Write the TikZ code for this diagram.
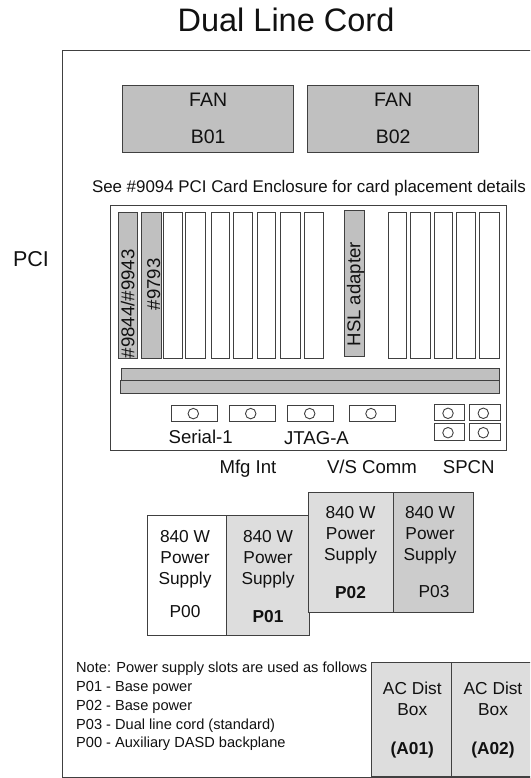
\documentclass[tikz,border=0pt]{standalone}
\usepackage{fontspec}
\setmainfont{Liberation Sans}
\usetikzlibrary{positioning}
\definecolor{cInk}{HTML}{111111}
\definecolor{cLine}{HTML}{404040}
\definecolor{cBar}{HTML}{C0C0C0}
\definecolor{cPale}{HTML}{DDDDDD}
\definecolor{cMid}{HTML}{CCCCCC}
\newcommand{\fsTitle}{\fontsize{32.5}{38}\selectfont}
\newcommand{\fsBig}{\fontsize{18.6}{22}\selectfont}
\newcommand{\fsPci}{\fontsize{21.5}{24}\selectfont}
\newcommand{\fsFan}{\fontsize{19.5}{22}\selectfont}
\newcommand{\fsSee}{\fontsize{16.9}{20}\selectfont}
\newcommand{\fsPower}{\fontsize{17.3}{21}\selectfont}
\newcommand{\fsNote}{\fontsize{14.6}{18.8}\selectfont}
\tikzset{
  every node/.style={text=cInk, inner sep=0pt},
  frame/.style={draw=cLine, line width=0.9pt},
  bar/.style={frame, fill=cBar},
  slot/.style={frame, fill=white},
  fan/.style={bar, minimum width=171pt, minimum height=67pt, align=center, font=\fsFan},
  port/.style={frame, fill=white, minimum width=46pt, minimum height=16.5pt},
  spcn/.style={frame, fill=white, minimum width=30.5pt, minimum height=16.5pt},
  pin/.style={frame, circle, fill=white, minimum size=10.5pt},
  lbl/.style={font=\fsBig},
  vlbl/.style={font=\fsBig, rotate=90},
  psu/.style={frame, minimum height=120pt},
  psutxt/.style={font=\fsPower, align=center},
  acbox/.style={frame, fill=cPale, minimum height=114.5pt},
}
\begin{document}
\begin{tikzpicture}[x=1pt, y=-1pt]
\useasboundingbox (0,0) rectangle (530,778);
\clip (0,0) rectangle (530,778);
\fill[white] (0,0) rectangle (530,778);
\node[font=\fsTitle] (title) at (286,20) {Dual Line Cord};
\node[font=\fsPci] (pci) at (31,259.5) {PCI};
\draw[frame] (62,50) rectangle (540,777);
% fans
\node[fan] (fan1) at (208.2,118.5) {FAN\\[15pt]B01};
\node[fan] (fan2) at (393.2,118.5) {FAN\\[15pt]B02};
\node[font=\fsSee] (see) at (309,188.6) {See \#9094 PCI Card Enclosure for card placement details};
% card enclosure
\draw[frame] (110.7,205.7) rectangle (506,450.7);
\draw[bar] (118.3,212.3) rectangle (137,358.3);
\draw[bar] (141.7,212.3) rectangle (161,358.3);
\foreach \xa/\xb in {163.3/182.7,185.3/205.7,211/229.3,233.3/252.3,257.3/275.7,280.3/300,304.7/323,388/406.3,410.3/430.3,434/452.7,456.3/475.7,479.7/499.3}
  \draw[slot] (\xa,212.3) rectangle (\xb,358.3);
\draw[bar] (344.3,210.7) rectangle (364,356.3);
\node[vlbl] (c1) at (127.7,303.8) {\#9844/\#9943};
\node[vlbl] (c2) at (153.6,284.2) {\#9793};
\node[vlbl] (hsl) at (355.5,294.2) {HSL adapter};
\draw[bar] (121,368.7) rectangle (499.3,380.7);
\draw[bar] (120,380.7) rectangle (499.3,393.3);
% connectors
\foreach \cx/\nm in {194.3/p1,252/p2,310.7/p3,372.2/p4} {
  \node[port] (\nm) at (\cx,413.4) {};
}
\foreach \cx/\nm in {193.3/p1,250.7/p2,309.7/p3,371/p4}
  \node[pin] (\nm pin) at (\cx,413.6) {};
\foreach \cx/\cy/\nm in {449.5/412.2/s1,485/412.2/s2,449.5/431.7/s3,485/431.7/s4}
  \node[spcn] (\nm) at (\cx,\cy) {};
\foreach \cx/\cy/\nm in {448/413.3/s1,483.3/413.3/s2,448/432.7/s3,483.3/432.7/s4}
  \node[pin] (\nm pin) at (\cx,\cy) {};
\node[lbl] (serial) at (200.7,436.7) {Serial-1};
\node[lbl] (jtag) at (316.5,438) {JTAG-A};
\node[lbl] (mfg) at (248,468.5) {Mfg Int};
\node[lbl] (vs) at (372,467) {V/S Comm};
\node[lbl] (spcnl) at (468.7,467) {SPCN};
% power supplies
\node[psu, fill=white, minimum width=79.4pt] (ps0) at (187,575.8) {};
\node[psu, fill=cPale, minimum width=82.3pt] (ps1) at (267.8,575.8) {};
\node[psu, fill=cPale, minimum width=84.6pt] (ps2) at (351,552.5) {};
\node[psu, fill=cMid, minimum width=79.7pt] (ps3) at (433.2,552.5) {};
\node[psutxt] (t0) at (185,573.8) {840 W\\Power\\Supply\\[12pt]P00};
\node[psutxt] (t1) at (268,576.2) {840 W\\Power\\Supply\\[17pt]\textbf{P01}};
\node[psutxt] (t2) at (350.5,552.4) {840 W\\Power\\Supply\\[17pt]\textbf{P02}};
\node[psutxt] (t3) at (430,552) {840 W\\Power\\Supply\\[16pt]\hspace*{8pt}P03};
% note
\node[font=\fsNote, align=left, anchor=north west] (note) at (76,662) {Note: Power supply slots are used as follows\\P01 - Base power\\P02 - Base power\\P03 - Dual line cord (standard)\\P00 - Auxiliary DASD backplane};
% ac boxes
\node[acbox, minimum width=80.7pt] (ac1) at (411.3,719.5) {};
\node[acbox, minimum width=82pt] (ac2) at (492.7,719.5) {};
\node[psutxt] (a1) at (412.3,720) {AC Dist\\Box\\[18pt]\textbf{(A01)}};
\node[psutxt] (a2) at (493,720) {AC Dist\\Box\\[18pt]\textbf{(A02)}};
\end{tikzpicture}
\end{document}
